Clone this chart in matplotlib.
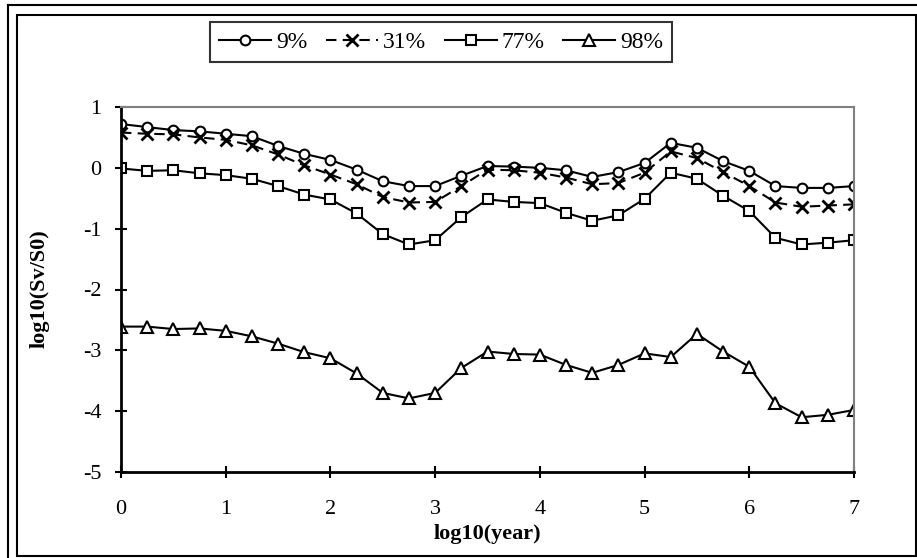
import matplotlib
matplotlib.use("Agg")
import matplotlib.pyplot as plt
from matplotlib.lines import Line2D

plt.rcParams['font.family'] = ['Liberation Serif', 'DejaVu Serif']

# log10(year)
x = [0, 0.25, 0.5, 0.75, 1, 1.25, 1.5, 1.75, 2, 2.25, 2.5, 2.75, 3, 3.25,
     3.5, 3.75, 4, 4.25, 4.5, 4.75, 5, 5.25, 5.5, 5.75, 6, 6.25, 6.5, 6.75, 7]

s9 = [0.72, 0.67, 0.62, 0.60, 0.56, 0.52, 0.36, 0.23, 0.13, -0.03, -0.22, -0.30, -0.30, -0.13,
      0.03, 0.02, 0.00, -0.04, -0.15, -0.07, 0.08, 0.41, 0.33, 0.11, -0.05, -0.30, -0.33, -0.33, -0.30]
s31 = [0.58, 0.56, 0.55, 0.50, 0.46, 0.37, 0.22, 0.04, -0.11, -0.27, -0.48, -0.57, -0.56, -0.30,
       -0.03, -0.04, -0.08, -0.16, -0.27, -0.25, -0.08, 0.27, 0.16, -0.07, -0.30, -0.57, -0.64, -0.62, -0.60]
s77 = [-0.01, -0.05, -0.04, -0.09, -0.12, -0.18, -0.30, -0.44, -0.52, -0.75, -1.09, -1.26, -1.19, -0.81,
       -0.52, -0.56, -0.58, -0.74, -0.87, -0.78, -0.51, -0.08, -0.18, -0.46, -0.71, -1.15, -1.26, -1.23, -1.19]
s98 = [-2.61, -2.61, -2.65, -2.64, -2.68, -2.77, -2.89, -3.03, -3.13, -3.38, -3.70, -3.79, -3.70, -3.29,
       -3.02, -3.06, -3.07, -3.24, -3.37, -3.24, -3.05, -3.11, -2.73, -3.02, -3.27, -3.87, -4.10, -4.06, -3.98]

labels = ['9%', '31%', '77%', '98%']

fig = plt.figure(figsize=(9.17, 5.58), dpi=100)
ax = fig.add_axes([121/917, 1 - 472/558, 733/917, 365/558])

ax.plot(x, s9, '-', color='black', lw=1.5, marker='o', ms=7, mfc='white', mec='black', mew=1.5, label=labels[0])
ax.plot(x, s31, color='black', lw=1.5, dashes=(5, 3), marker='x', ms=8, mec='black', mew=2, label=labels[1])
ax.plot(x, s77, '-', color='black', lw=1.5, marker='s', ms=7, mfc='white', mec='black', mew=1.5, label=labels[2])
ax.plot(x, s98, '-', color='black', lw=1.5, marker='^', ms=8, mfc='white', mec='black', mew=1.5, label=labels[3])

ax.set_xlim(0, 7)
ax.set_ylim(-5, 1)
ax.set_xticks(range(0, 8))
ax.set_yticks(range(-5, 2))
ax.set_yticklabels(['-5', '-4', '-3', '-2', '-1', '0', '1'])

for side in ['left', 'bottom']:
    ax.spines[side].set_color('black')
    ax.spines[side].set_linewidth(2)
for side in ['top', 'right']:
    ax.spines[side].set_color('#808080')
    ax.spines[side].set_linewidth(1.5)

ax.tick_params(axis='both', direction='inout', length=8, width=1.5, labelsize=16)
ax.tick_params(axis='x', pad=16)
ax.tick_params(axis='y', pad=10)

ax.set_xlabel('log10(year)', fontsize=16, fontweight='bold', labelpad=4)
fig.text(40/917, 1 - 289/558, 'log10(Sv/S0)', rotation=90, fontsize=16, fontweight='bold',
         ha='center', va='center')

leg = fig.legend(loc='upper center', bbox_to_anchor=(441/917, 1 - 22/558), ncol=4,
                 fontsize=17, frameon=True, fancybox=False, edgecolor='black',
                 handlelength=2.2, handletextpad=0.2, columnspacing=0.8, borderpad=0.4,
                 borderaxespad=0)
leg.get_frame().set_linewidth(1.5)

# page frame
fig.add_artist(plt.Rectangle((17/917, 2/558), 899/917, 541/558, transform=fig.transFigure,
                             fill=False, edgecolor='black', lw=1.5))
fig.add_artist(Line2D([8/917, 1], [1 - 5/558, 1 - 5/558], transform=fig.transFigure, color='black', lw=1.5))
fig.add_artist(Line2D([8/917, 8/917], [0, 1 - 5/558], transform=fig.transFigure, color='black', lw=1.5))

fig.savefig('out.png', dpi=100)
